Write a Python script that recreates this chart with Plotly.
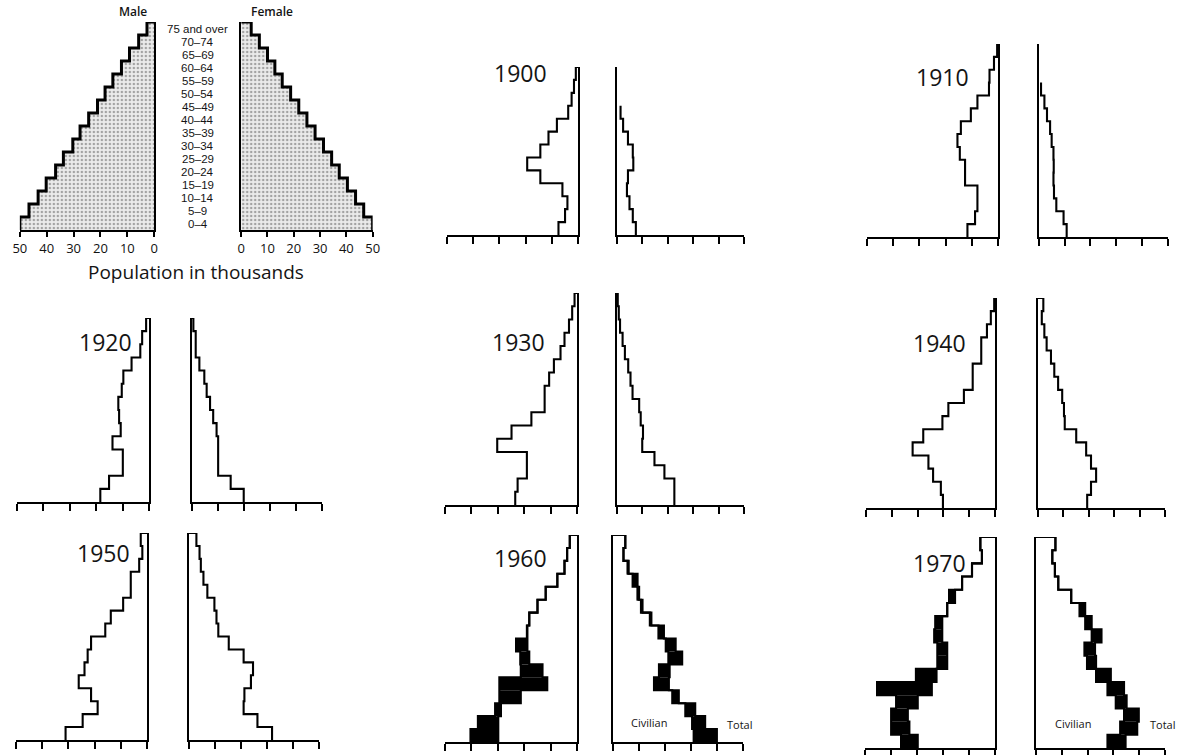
import plotly.graph_objects as go

W, H = 1189, 755

AGE_GROUPS = ["0–4", "5–9", "10–14", "15–19", "20–24", "25–29", "30–34", "35–39",
              "40–44", "45–49", "50–54", "55–59", "60–64", "65–69", "70–74", "75 and over"]
TICKS = [0, 10, 20, 30, 40, 50]
TICK_LABELS = ["0", "10", "20", "30", "40", "50"]

# Key pyramid (population in thousands)
KEY_MALE = [50, 46.6, 43.2, 40.2, 36.7, 33.8, 30.3, 27.6, 24.4, 21.1, 18.3, 15.4, 12.2, 9.2, 5.8, 2.7]
KEY_FEMALE = [50, 46.6, 43.5, 40.4, 37.3, 34.4, 31.3, 28.1, 25.0, 21.9, 18.8, 15.6, 12.8, 10.0, 6.9, 3.8]

# Census years (thousands, youngest group first; None = group not plotted)
M1900 = [7.5, 5.0, 4.1, 6.0, 14.4, 19.4, 14.4, 11.3, 8.1, 3.8, 2.5, 1.6, 0.9]
F1900 = [7.5, 6.3, 5.0, 4.0, 4.4, 6.5, 6.3, 4.4, 2.5, 1.5, None, None, None]

M1910 = [11.7, 8.8, 7.9, 7.9, 12.6, 12.6, 14.6, 15.5, 14.2, 10.4, 7.9, 3.5, 3.3, 1.6, 0.4]
F1910 = [10.8, 9.6, 6.8, 5.9, 5.7, 5.8, 5.7, 5.0, 4.4, 3.2, 2.2, 0.9, None, None, None]

M1920 = [18.5, 15.2, 10.0, 10.0, 13.9, 10.8, 11.4, 11.7, 10.4, 9.8, 6.7, 3.4, 2.7, 1.2]
F1920 = [19.9, 14.9, 10.1, 10.1, 10.1, 9.5, 8.2, 7.0, 5.7, 4.8, 2.9, 1.5, 1.5, 0.6]

M1930 = [23.4, 22.5, 19.0, 19.0, 30.2, 24.8, 17.3, 12.3, 12.3, 10.6, 8.8, 6.3, 4.8, 3.1, 1.9, 1.0]
F1930 = [22.6, 22.6, 18.7, 14.8, 10.0, 10.3, 9.4, 8.8, 6.2, 5.4, 4.5, 3.2, 2.3, 1.3, 0.8, 0.4]

M1940 = [20.2, 21.0, 24.0, 25.8, 31.9, 27.8, 20.4, 18.1, 12.1, 8.7, 8.7, 5.4, 5.4, 3.2, 1.7, 0.4]
F1940 = [19.4, 20.9, 22.9, 20.9, 19.0, 15.1, 10.6, 10.3, 9.6, 8.0, 6.5, 5.2, 3.5, 2.6, 1.6, 2.2]

M1950 = [31.1, 24.6, 18.9, 21.4, 26.1, 23.9, 22.7, 21.4, 16.0, 13.9, 9.2, 6.3, 6.3, 3.1, 1.9, 2.5]
F1950 = [31.9, 26.3, 21.0, 21.3, 23.8, 24.6, 21.0, 15.3, 11.3, 10.6, 9.8, 7.1, 5.6, 4.6, 4.1, 2.9]

# 1960 and 1970: total population and civilian population
M1960_TOTAL = [40.3, 37.5, 31.0, 29.4, 29.4, 21.3, 21.5, 23.1, 19.0, 18.1, 15.0, 11.9, 7.5, 4.8, 3.8, 2.8]
M1960_CIVIL = [29.8, 29.8, 28.8, 21.3, 11.3, 13.1, 18.1, 18.8, 18.8, 18.1, 15.0, 11.9, 7.5, 4.8, 3.8, 2.8]
F1960_TOTAL = [39.9, 35.4, 31.6, 25.3, 21.5, 21.8, 26.6, 24.1, 19.6, 14.8, 11.4, 10.1, 9.5, 6.1, 4.1, 4.8]
F1960_CIVIL = [31.0, 30.4, 27.8, 22.8, 15.8, 17.7, 21.3, 20.3, 17.5, 14.2, 10.8, 9.5, 7.6, 5.7, 4.1, 4.8]

M1970_TOTAL = [36.1, 39.9, 39.9, 38.0, 45.3, 30.4, 22.2, 22.2, 23.4, 23.0, 18.4, 17.7, 12.7, 8.9, 5.1, 5.7]
M1970_CIVIL = [29.7, 32.9, 33.5, 29.7, 24.3, 22.5, 18.4, 18.4, 20.3, 20.3, 18.4, 15.4, 12.7, 8.9, 5.1, 5.7]
F1970_TOTAL = [34.7, 39.2, 39.8, 35.1, 34.1, 29.0, 23.3, 22.9, 25.4, 21.6, 19.1, 13.7, 8.7, 7.4, 6.4, 7.6]
F1970_CIVIL = [27.7, 32.6, 34.1, 30.9, 27.7, 23.3, 19.8, 18.8, 21.6, 19.1, 16.9, 13.7, 8.7, 7.4, 6.4, 7.6]

# Panel geometry in pixels: male/female axis extents, baseline, top of vertical axis
PANELS = [
    dict(label=None, male=(13, 149), female=(237, 370), base=230, top=22, n=16,
         m=[KEY_MALE], f=[KEY_FEMALE]),
    dict(label="1900", male=(445, 578), female=(617, 746), base=235, top=67, n=13,
         m=[M1900], f=[F1900], lx=520, ly=73),
    dict(label="1910", male=(870, 1003), female=(1044, 1175), base=237, top=44, n=15,
         m=[M1910], f=[F1910], lx=947, ly=77),
    dict(label="1920", male=(10, 144), female=(187, 319), base=502, top=318, n=14,
         m=[M1920], f=[F1920], lx=100, ly=342),
    dict(label="1930", male=(443, 577), female=(617, 746), base=505, top=293, n=16,
         m=[M1930], f=[F1930], lx=518, ly=342),
    dict(label="1940", male=(869, 1000), female=(1043, 1172), base=508, top=298, n=16,
         m=[M1940], f=[F1940], lx=944, ly=343),
    dict(label="1950", male=(9, 142), female=(184, 316), base=740, top=533, n=16,
         m=[M1950], f=[F1950], lx=98, ly=553),
    dict(label="1960", male=(443, 577), female=(613, 745), base=742, top=535, n=16,
         m=[M1960_TOTAL, M1960_CIVIL], f=[F1960_TOTAL, F1960_CIVIL], lx=520, ly=558,
         civ=(650, 722), tot=(742, 724)),
    dict(label="1970", male=(868, 1000), female=(1041, 1172), base=748, top=537, n=16,
         m=[M1970_TOTAL, M1970_CIVIL], f=[F1970_TOTAL, F1970_CIVIL], lx=944, ly=563,
         civ=(1079, 723), tot=(1170, 724)),
]

FONT = "Open Sans"
AGE_FONT = "Liberation Sans"
fig = go.Figure()
layout = {}
annotations = []
counter = [0]


def label(text, x, y, size, yref="paper", weight="normal", family=FONT):
    annotations.append(dict(
        text=text, x=x / W, y=y if yref != "paper" else 1 - y / H,
        xref="paper", yref=yref, xanchor="center", yanchor="middle",
        showarrow=False, borderpad=0,
        font=dict(family=family, size=size, color="#141414", weight=weight)))


def add_axes(xpx, base, top, n, male, key):
    counter[0] += 1
    i = counter[0]
    sx = "" if i == 1 else str(i)
    lw = 2.4 if key else 2
    layout["xaxis" + sx] = dict(
        domain=[xpx[0] / W, xpx[1] / W], range=[50, 0] if male else [0, 50],
        anchor="y" + sx, showline=True, linecolor="black", linewidth=lw,
        ticks="outside", tickvals=TICKS, ticktext=TICK_LABELS,
        ticklen=5 if key else 7, tickwidth=lw, tickcolor="black",
        showticklabels=key, tickfont=dict(family=FONT, size=13, color="#111"),
        showgrid=False, zeroline=False, fixedrange=True)
    layout["yaxis" + sx] = dict(
        domain=[1 - base / H, 1 - top / H], range=[0, n], anchor="x" + sx,
        side="right" if male else "left", showline=True, linecolor="black",
        linewidth=lw, ticks="", showticklabels=False, showgrid=False,
        zeroline=False, fixedrange=True)
    return "x" + sx, "y" + sx


def step_outline(vals, xr, yr, width, fill=False):
    drawn = [v for v in vals if v is not None]
    k = len(drawn)
    closed = k == len(vals)
    xs = drawn + ([0] if closed else [drawn[-1]])
    ys = list(range(k + 1))
    kw = {}
    if fill:
        kw = dict(fill="tozerox", fillcolor="#e6e6e6",
                  fillpattern=dict(shape=".", fgcolor="#5a5a5a", bgcolor="#ebebeb",
                                   size=4, solidity=0.3))
    fig.add_trace(go.Scatter(x=xs, y=ys, xaxis=xr, yaxis=yr, mode="lines",
                             line=dict(color="black", width=width, shape="vh"),
                             cliponaxis=False, hoverinfo="skip", showlegend=False, **kw))


def military_band(total, civil, xr, yr):
    fig.add_trace(go.Bar(
        y=[i + 0.5 for i in range(len(total))],
        x=[t - c for t, c in zip(total, civil)], base=civil,
        orientation="h", width=1, xaxis=xr, yaxis=yr,
        marker=dict(color="black", line=dict(width=0)),
        hoverinfo="skip", showlegend=False))


for p in PANELS:
    key = p["label"] is None
    for side, series in (("male", p["m"]), ("female", p["f"])):
        xr, yr = add_axes(p[side], p["base"], p["top"], p["n"], side == "male", key)
        if len(series) == 2:
            military_band(series[0], series[1], xr, yr)
        for s in series:
            step_outline(s, xr, yr, 3 if key else 2.1, fill=key)
        if key and side == "female":
            key_y = yr
    if not key:
        label(p["label"], p["lx"], p["ly"], 23)
    if "civ" in p:
        label("Civilian", p["civ"][0], p["civ"][1], 11)
        label("Total", p["tot"][0], p["tot"][1], 11)

# Key labels: age groups between the two halves
for i, g in enumerate(AGE_GROUPS):
    label(g, 193, i + 0.5, 11.5, yref=key_y, family=AGE_FONT)
label("Male", 128, 11, 12, weight=600)
label("Female", 268, 11, 12, weight=600)
label("Population in thousands", 191, 272, 19)

fig.update_layout(
    width=W, height=H, margin=dict(l=0, r=0, t=0, b=0),
    paper_bgcolor="white", plot_bgcolor="white", barmode="overlay",
    showlegend=False, annotations=annotations, **layout)

fig.write_html("out.html", config={"displayModeBar": False})
